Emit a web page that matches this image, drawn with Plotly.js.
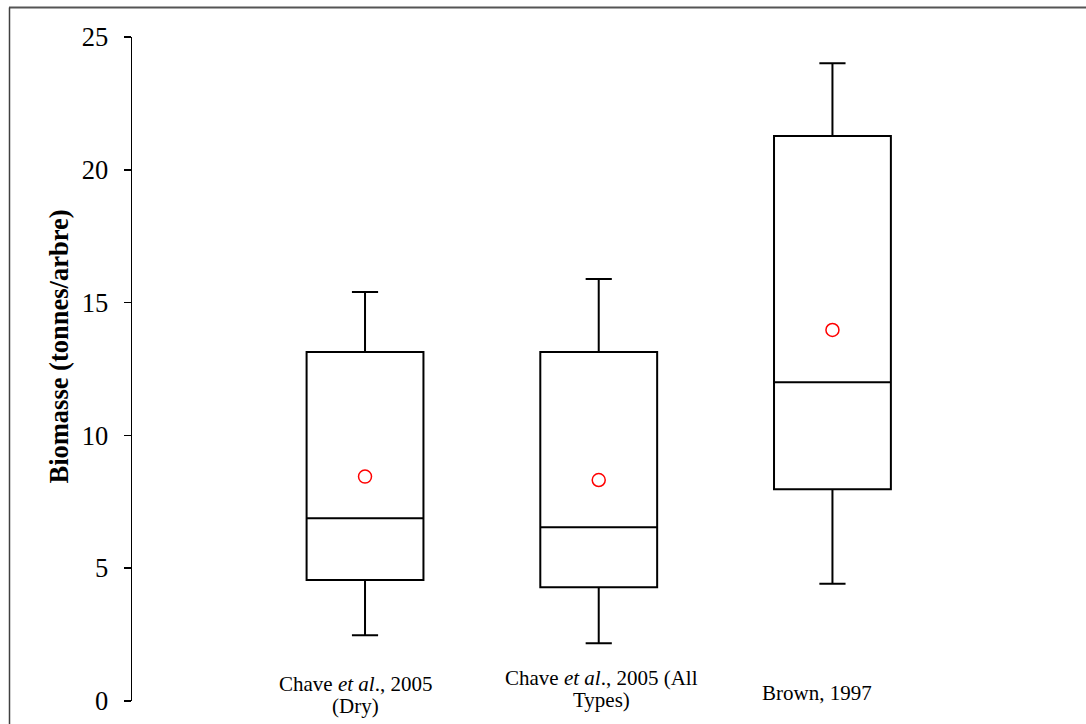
<!DOCTYPE html>
<html>
<head>
<meta charset="utf-8">
<script src="https://cdn.plot.ly/plotly-3.0.1.min.js"></script>
<style>html,body{margin:0;padding:0;background:#fff;}#chart{width:1086px;height:724px;}</style>
</head>
<body>
<div id="chart"></div>
<script>
// Data
const categories = ["Chave <i>et al</i>., 2005|(Dry)", "Chave <i>et al</i>., 2005 (All|Types)", "Brown, 1997"];
const positions = [0, 1, 2];
const lowerWhisker = [2.48, 2.17, 4.41];
const q1Values = [4.56, 4.28, 7.97];
const medianValues = [6.88, 6.54, 12.00];
const q3Values = [13.14, 13.14, 21.27];
const upperWhisker = [15.40, 15.89, 24.01];
const meanValues = [8.45, 8.32, 13.97];
const yTicks = [0, 5, 10, 15, 20, 25];

const serif = "'Liberation Serif', 'Times New Roman', serif";

const traces = positions.map((p, i) => ({
  type: "box",
  x: [p],
  q1: [q1Values[i]],
  median: [medianValues[i]],
  q3: [q3Values[i]],
  lowerfence: [lowerWhisker[i]],
  upperfence: [upperWhisker[i]],
  width: 0.5,
  whiskerwidth: 0.224,
  fillcolor: "#ffffff",
  line: {color: "#000000", width: 2},
  boxpoints: false,
  showlegend: false,
  hoverinfo: "skip"
}));

traces.push({
  type: "scatter",
  mode: "markers",
  x: positions,
  y: meanValues,
  marker: {symbol: "circle-open", color: "#ff0000", size: 13, line: {width: 1.5, color: "#ff0000"}},
  showlegend: false,
  hoverinfo: "skip"
});

const L = 132, R = 21, T = 37, B = 23;
const W = 1086 - L - R, H = 724 - T - B;
const px = v => (v - L) / W;
const py = v => (724 - B - v) / H;

// Category labels drawn as annotations (line by line)
const labelShift = [-10, 3, -15];
const labelCenterY = [0.23, 0.45, 0.3];
const annotations = [];
categories.forEach((c, i) => {
  const lines = c.split("|");
  const n = lines.length;
  lines.forEach((ln, j) => {
    annotations.push({
      xref: "x", yref: "y",
      x: positions[i], y: labelCenterY[i],
      yshift: ((n - 1) / 2 - j) * 22,
      xshift: labelShift[i],
      text: ln, showarrow: false,
      xanchor: "center", yanchor: "middle",
      font: {family: serif, size: 21, color: "#000"}
    });
  });
});
annotations.push({
  xref: "paper", yref: "paper",
  x: px(58.5), y: py(347),
  text: "<b>Biomasse (tonnes/arbre)</b>", textangle: -90, showarrow: false,
  xanchor: "center", yanchor: "middle",
  font: {family: serif, size: 26.5, color: "#000"}
});

const layout = {
  width: 1086, height: 724,
  margin: {l: L, r: R, t: T, b: B, pad: 0},
  paper_bgcolor: "#ffffff",
  plot_bgcolor: "#ffffff",
  boxmode: "overlay",
  xaxis: {
    range: [-0.997, 2.995], showline: false, showticklabels: false, ticks: "",
    showgrid: false, zeroline: false, fixedrange: true
  },
  yaxis: {
    range: [0, 25], tickvals: yTicks, ticktext: yTicks.map(String),
    showline: true, linecolor: "#000", linewidth: 1.5,
    ticks: "outside", ticklen: 7, tickwidth: 1.5, tickcolor: "#000",
    showgrid: false, zeroline: false,
    tickfont: {family: serif, size: 26.5, color: "#000"},
    ticklabelstandoff: 10
  },
  annotations: annotations,
  shapes: [
    {type: "line", xref: "paper", yref: "paper", x0: px(9), x1: px(1090), y0: py(7.5), y1: py(7.5), line: {color: "#555555", width: 2}},
    {type: "line", xref: "paper", yref: "paper", x0: px(9.5), x1: px(9.5), y0: py(7.5), y1: py(730), line: {color: "#404040", width: 1.5}}
  ]
};

Plotly.newPlot("chart", traces, layout, {staticPlot: true, displayModeBar: false});
</script>
</body>
</html>
